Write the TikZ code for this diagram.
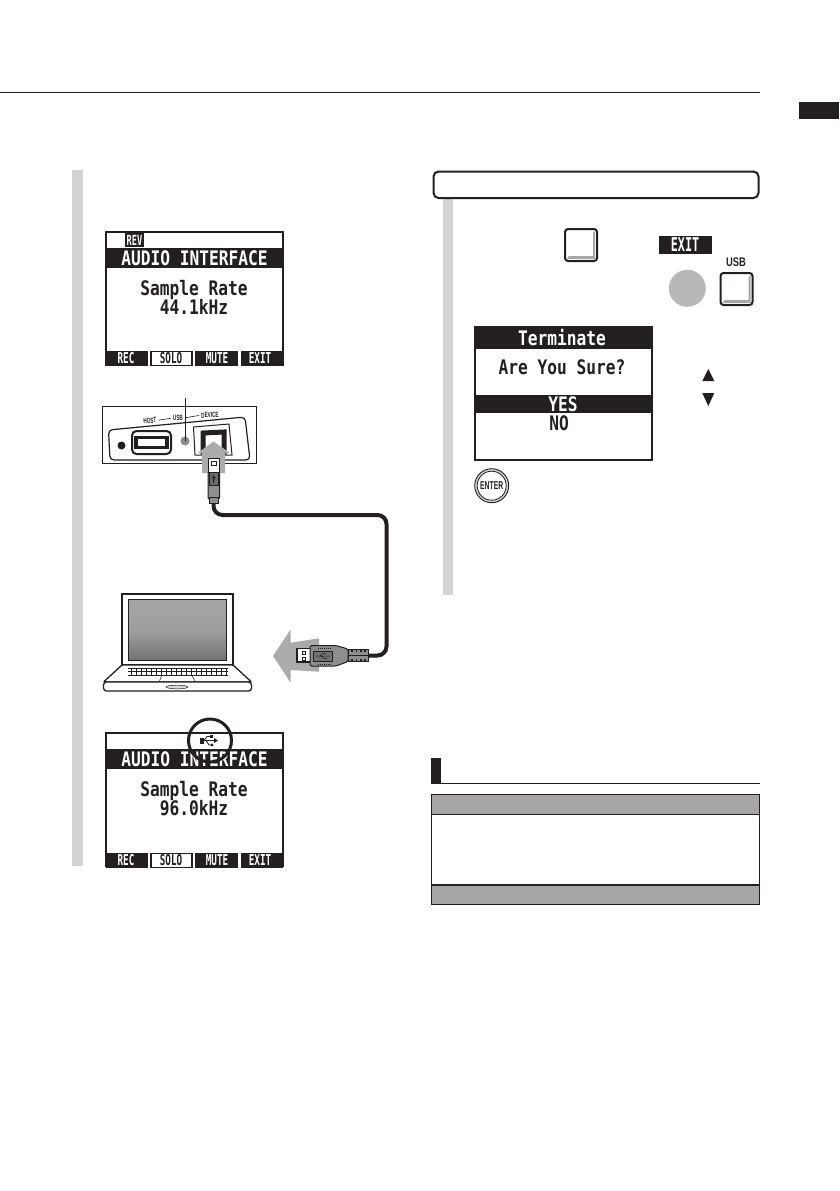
\documentclass[tikz,border=0pt]{standalone}
\usepackage{fontspec}
\usepackage{graphicx}
\setmainfont{Liberation Sans}
\newfontfamily\lcdfont{DejaVu Sans Mono}[BoldFont={DejaVu Sans Mono Bold}]
\usetikzlibrary{calc}
\definecolor{ink}{HTML}{231F20}
\definecolor{barg}{HTML}{D3D3D3}
\definecolor{headg}{HTML}{A7A5A6}
\definecolor{arrowg}{HTML}{ABABAB}
\definecolor{dotg}{HTML}{8C8C8C}
\definecolor{plugg}{HTML}{8E8E8E}
\newcommand{\lcdt}[2]{{\fontsize{#1}{#1}\lcdfont\bfseries\scalebox{0.81}[1]{#2}}}
\newcommand{\lcdk}[2]{{\fontsize{#1}{#1}\lcdfont\bfseries\scalebox{0.62}[1]{#2}}}
\tikzset{
  rail/.style={fill=barg,draw=none},
  lcdframe/.style={draw=ink,line width=2pt,fill=white},
  band/.style={fill=ink,draw=none},
  wtext/.style={text=white,inner sep=0pt},
  btext/.style={text=ink,inner sep=0pt},
  fatarrow/.style={fill=arrowg,draw=none},
  keybtn/.style={draw=ink,line width=2pt,rounded corners=3pt,fill=white},
  smallt/.style={inner sep=0pt,text=ink,font=\fontsize{7.5}{7.5}\selectfont\bfseries},
}
\newcommand{\softkeys}[1]{%
  \fill[ink] (106,#1) rectangle (283,#1+15);
  \fill[white] (148,#1) rectangle (150,#1+15);
  \fill[white] (152,#1+1) rectangle (191,#1+14);
  \fill[white] (193,#1) rectangle (195,#1+15);
  \fill[white] (238,#1) rectangle (241,#1+15);
}
\begin{document}
\begin{tikzpicture}[x=1pt,y=-1pt,line cap=butt]
\useasboundingbox (0,0) rectangle (839,1191);
\fill[white] (0,0) rectangle (839,1191);

% page furniture
\draw[ink,line width=1pt] (0,92.5) -- (760,92.5);
\fill[ink] (799,102) rectangle (839,119);

% left rail
\fill[rail] (72,170) rectangle (83,866);

% ---- screen 1
\draw[lcdframe] (106,232) rectangle (283,365);
\fill[band] (106,248) rectangle (283,268);
\fill[band] (125,233) rectangle (144,247);
\node[wtext] (s1rev) at (134.5,240) {\lcdk{14}{REV}};
\node[wtext] (s1title) at (194.5,258) {\lcdt{20}{AUDIO INTERFACE}};
\node[btext] (s1rate) at (194,290) {\lcdt{20}{Sample Rate}};
\node[btext] (s1freq) at (194,307) {\lcdt{20}{44.1kHz}};
\softkeys{351}
\node[wtext] (s1rec) at (126,358.5) {\lcdk{15}{REC}};
\node[btext] (s1solo) at (171,358.5) {\lcdk{15}{SOLO}};
\node[wtext] (s1mute) at (217,358.5) {\lcdk{15}{MUTE}};
\node[wtext] (s1exit) at (260,358.5) {\lcdk{15}{EXIT}};

% ---- rear panel
\draw[ink,line width=1pt,fill=white] (102.5,406.5) rectangle (256.5,463.5);
\draw[ink,line width=1.2pt,rounded corners=4pt] (108.5,430) -- (245,417) -- (250,460) -- (110,460) -- cycle;
\fill[ink] (121.5,445.5) circle (4);
\draw[ink,line width=2pt,rounded corners=4.5pt,fill=white] (132,431) rectangle (171,454);
\draw[ink,line width=3.5pt,fill=white] (136,437.5) rectangle (167,447.5);
\node[smallt,rotate=3] (lhost) at (150,420.5) {\scalebox{.62}[1]{HOST}};
\node[smallt,rotate=3] (lusb) at (178,418) {\scalebox{.62}[1]{USB}};
\node[smallt,rotate=3] (ldev) at (210,415) {\scalebox{.62}[1]{DEVICE}};
\draw[ink,line width=.6pt] (lhost.east)++(2,0) -- ($(lusb.west)+(-2,0)$);
\draw[ink,line width=.6pt] (lusb.east)++(2,0) -- ($(ldev.west)+(-2,0)$);
\node[circle,fill=dotg,minimum size=9pt,inner sep=0pt] (led) at (185,441) {};
\coordinate (ledtop) at (185,398);
\draw[ink,line width=.8pt] (ledtop) -- (led.center);
\fill[white] (194,427) rectangle (232,455);
\draw[ink,line width=1pt] (193.5,427) -- (229,424) -- (232,455) -- (195,455) -- cycle;
\draw[ink,line width=5pt,fill=white] (203,433) -- (224,432) -- (224,452) -- (203,452) -- cycle;

% arrow into device port
\fill[fatarrow] (213.5,441.5) -- (230,453) -- (225,453) -- (225,473) -- (202,473) -- (202,453) -- (197.5,453) -- cycle;

% cable
\draw[ink,line width=4pt,rounded corners=9pt] (213.5,498) -- (213.5,515) -- (386.5,515) -- (386.5,655.5) -- (366,655.5);

% device plug
\draw[ink,line width=1pt,fill=plugg,rounded corners=1pt] (208,472) rectangle (219.5,499);
\draw[ink,line width=1pt,fill=plugg] (209.5,497) rectangle (218,503);
\draw[ink,line width=1pt,fill=white] (208,458) rectangle (219.5,472);
\draw[ink,line width=.8pt,fill=white] (211,461) rectangle (216.5,465);
\draw[ink,line width=.7pt,fill=plugg!75!black] (209,472) rectangle (218.5,485);
\draw[ink,line width=.5pt] (213.7,475) -- (213.7,483) (212,477) -- (215.5,477) (212.5,479.5) -- (215,479.5);

% ---- laptop
\draw[ink,line width=1.5pt,fill=white] (122,594) rectangle (233,665);
\shade[top color=headg,bottom color=black!55,middle color=black!38,draw=ink,line width=.8pt] (128.5,599.5) rectangle (226.5,660.5);
\draw[ink,line width=1.3pt,fill=white,rounded corners=1pt] (122,665) -- (233,665) -- (251.5,682) -- (103.5,682) -- cycle;
\draw[ink,line width=1.3pt,fill=white,rounded corners=3pt] (103.5,682) -- (251.5,682) -- (251.5,691) -- (103.5,691) -- cycle;
\foreach \yy in {668.5,671.5,675}{\draw[ink,line width=.8pt] (128,\yy) -- (228,\yy);}
\foreach \xx in {131,136,...,226}{\draw[ink,line width=.6pt] (\xx,668.5) -- (\xx,675);}
\draw[ink,line width=.5pt] (161.7,675.5) -- (159.5,681) (191.7,675.5) -- (195,681);
\draw[ink,line width=.5pt,fill=black!15] (177,687) ellipse (11 and 1.8);

% arrow out to the computer
\fill[fatarrow] (273,656) -- (290.7,629.3) -- (290.7,642.7) -- (319,638.3) -- (319,671.7) -- (290.7,670) -- (290.7,682.7) -- cycle;

% USB-A plug
\draw[ink,line width=1.2pt,fill=white] (297,648.5) rectangle (311,662);
\draw[ink,line width=.9pt,fill=white] (302,651.5) rectangle (305.5,654.5);
\draw[ink,line width=.9pt,fill=white] (302,657) rectangle (305.5,660);
\draw[ink,line width=1pt,fill=plugg,rounded corners=1.5pt] (310,645.5) -- (336,645.5) -- (348,649) -- (348,661.5) -- (336,666) -- (310,666) -- cycle;
\draw[ink,line width=.8pt,fill=plugg!80!black] (313,651) rectangle (332,661);
\draw[ink,dash pattern=on 1pt off 1pt,line width=1pt] (318,648) -- (332,648) (318,664) -- (332,664);
\draw[ink,line width=.5pt] (316,656) -- (330,656) (320,656) -- (323,653.5) -- (326,653.5) (321,656) -- (324,658.5) -- (327,658.5);
\fill[ink] (348,654.5) rectangle (368,656.5);
\draw[ink,line width=.9pt,fill=plugg] (348,649) -- (368,649) -- (368,661.5) -- (348,661.5) -- cycle;
\foreach \xx in {352,356.5,361,365}{\fill[ink] (\xx-.6,649) rectangle (\xx+.6,652);\fill[ink] (\xx-.6,658.5) rectangle (\xx+.6,661.5);}
\fill[ink] (349,654.5) rectangle (368,656);

% ---- screen 3
\draw[lcdframe] (106,733) rectangle (283,866);
\fill[band] (106,749) rectangle (283,769);
\node[wtext] (s3title) at (194.5,759) {\lcdt{20}{AUDIO INTERFACE}};
\node[btext] (s3rate) at (194,791) {\lcdt{20}{Sample Rate}};
\node[btext] (s3freq) at (194,808) {\lcdt{20}{96.0kHz}};
\softkeys{852.5}
\node[wtext] (s3rec) at (126,860) {\lcdk{15}{REC}};
\node[btext] (s3solo) at (171,860) {\lcdk{15}{SOLO}};
\node[wtext] (s3mute) at (217,860) {\lcdk{15}{MUTE}};
\node[wtext] (s3exit) at (260,860) {\lcdk{15}{EXIT}};
% usb symbol
\draw[ink,line width=1.1pt] (201,740.5) -- (216,740.5);
\fill[ink] (200,737.5) rectangle (203.5,743.5);
\fill[ink] (218,740.5) -- (214,738) -- (214,743) -- cycle;
\draw[ink,line width=.9pt] (204,740.5) -- (207,736.5) -- (210,736.5);
\fill[ink] (210,735) rectangle (212.5,738);
\draw[ink,line width=.9pt] (206,740.5) -- (209,745) -- (211,745);
\fill[ink] (212,745) circle (1.6);
\node[circle,draw=ink,line width=3pt,minimum size=43pt,inner sep=0pt] (usbring) at (210,740.5) {};

% ---- right column
\fill[rail] (442.5,197) rectangle (453,595);
\draw[ink,line width=2pt,fill=white,rounded corners=5pt] (433.5,171.5) rectangle (758.5,198);

% keys
\newcommand{\keycap}[2]{%
  \draw[keybtn] (#1,#2) rectangle ++(32,32);
  \fill[black!35] (#1+2,#2+30) -- (#1+30,#2+30) -- (#1+30,#2+2) -- (#1+28,#2+4) -- (#1+28,#2+27) -- (#1+4,#2+27) -- cycle;
}
\keycap{565}{229}
\fill[ink] (659,236) rectangle (711.5,254);
\node[wtext] (exitlab) at (685,245) {\lcdk{19}{EXIT}};
\node[inner sep=0pt,text=ink,font=\fontsize{12.5}{12.5}\selectfont\bfseries] (usblab) at (736,262) {\scalebox{.75}[1]{USB}};
\node[circle,fill=black!28,minimum size=37pt,inner sep=0pt] (exitled) at (687.3,288.3) {};
\keycap{720.5}{273}

% ---- screen 2
\draw[lcdframe] (475,327) rectangle (652,460);
\fill[band] (475,327) rectangle (652,349);
\node[wtext] (s2title) at (562,338) {\lcdt{20}{Terminate}};
\node[btext] (s2q) at (562,367) {\lcdt{20}{Are You Sure?}};
\fill[band] (475,395) rectangle (652,412.5);
\node[wtext] (s2yes) at (563,404) {\lcdt{20}{YES}};
\node[btext] (s2no) at (559,423.5) {\lcdt{20}{NO}};

% triangles
\fill[ink] (708.3,369) -- (714.3,381) -- (702.3,381) -- cycle;
\fill[ink] (708.3,406) -- (714.3,393) -- (702.3,393) -- cycle;

% enter
\node[circle,draw=ink,line width=.9pt,minimum size=34pt,inner sep=0pt,fill=black!18] (enterout) at (491.7,485.7) {};
\node[circle,draw=ink,line width=.8pt,minimum size=29pt,inner sep=0pt,fill=white] (enterin) at (491.7,485.7) {};
\node[inner sep=0pt,text=ink,font=\fontsize{9.5}{9.5}\selectfont\bfseries] (entert) at (491.7,485.7) {\scalebox{.72}[1.2]{ENTER}};

% ---- bottom table
\fill[ink] (431,757.5) rectangle (441,783.5);
\draw[ink,line width=1pt] (431,783.5) -- (759.5,783.5);
\draw[ink,line width=1pt,fill=headg] (431.5,794.5) rectangle (759,814.5);
\draw[ink,line width=1pt,fill=white] (431.5,814.5) rectangle (759,885);
\draw[ink,line width=1pt,fill=headg] (431.5,885) rectangle (759,904.5);
\draw[ink,line width=2pt] (431.5,885) -- (759,885);
\end{tikzpicture}
\end{document}
